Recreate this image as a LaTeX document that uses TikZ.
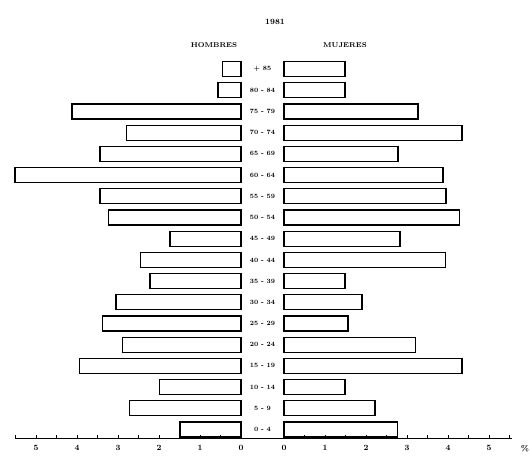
\documentclass[tikz,border=0pt]{standalone}
\usetikzlibrary{calc}

\begin{document}
\begin{tikzpicture}[x=1pt, y=1pt,
    bar/.style={draw, line width=1.2pt},
    agelabel/.style={font=\fontsize{6.5}{7}\selectfont\bfseries},
    ticklabel/.style={font=\fontsize{8}{9}\selectfont\bfseries, below}]
    \useasboundingbox (0, 0) rectangle (531, -456);

    \node[font=\fontsize{8}{9}\selectfont\bfseries] (title) at (275, -22) {1981};
    \node[font=\fontsize{7}{8}\selectfont\bfseries] (hom) at (214, -45) {HOMBRES};
    \node[font=\fontsize{7}{8}\selectfont\bfseries] (muj) at (345, -45) {MUJERES};

    \foreach \age/\hom/\muj [count=\i from 0] in {0 - 4/1.49/2.76, 5 - 9/2.71/2.22, 10 - 14/1.98/1.49,
        15 - 19/3.93/4.34, 20 - 24/2.90/3.20, 25 - 29/3.37/1.56, 30 - 34/3.05/1.90,
        35 - 39/2.22/1.49, 40 - 44/2.46/3.93, 45 - 49/1.73/2.83, 50 - 54/3.24/4.29,
        55 - 59/3.44/3.95, 60 - 64/5.51/3.88, 65 - 69/3.44/2.78, 70 - 74/2.80/4.34,
        75 - 79/4.12/3.27, 80 - 84/0.56/1.49, + 85/0.46/1.49} {
        \pgfmathsetmacro{\ybot}{-437 + 21.2*\i}
        \draw[bar] (241 - 41*\hom, \ybot) rectangle (241, \ybot + 15);
        \draw[bar] (284, \ybot) rectangle (284 + 41*\muj, \ybot + 15);
        \node[agelabel] (age\i) at (262.5, \ybot + 7.5) {\age};
    }

    \coordinate (axl) at (15, -438);
    \coordinate (axr) at (512, -438);
    \draw[line width=1pt] (axl) -- (axr);
    \foreach \k in {0, ..., 11} {
        \draw[line width=0.8pt] (241 - 20.5*\k, -439) -- ++(0, 4);
        \draw[line width=0.8pt] (284 + 20.5*\k, -439) -- ++(0, 4);
    }
    \foreach \k in {0, ..., 5} {
        \node[ticklabel] (l\k) at (241 - 41*\k, -442) {\k};
        \node[ticklabel] (r\k) at (284 + 41*\k, -442) {\k};
    }
    \node[ticklabel] (pct) at (525, -442) {\%};
\end{tikzpicture}
\end{document}
